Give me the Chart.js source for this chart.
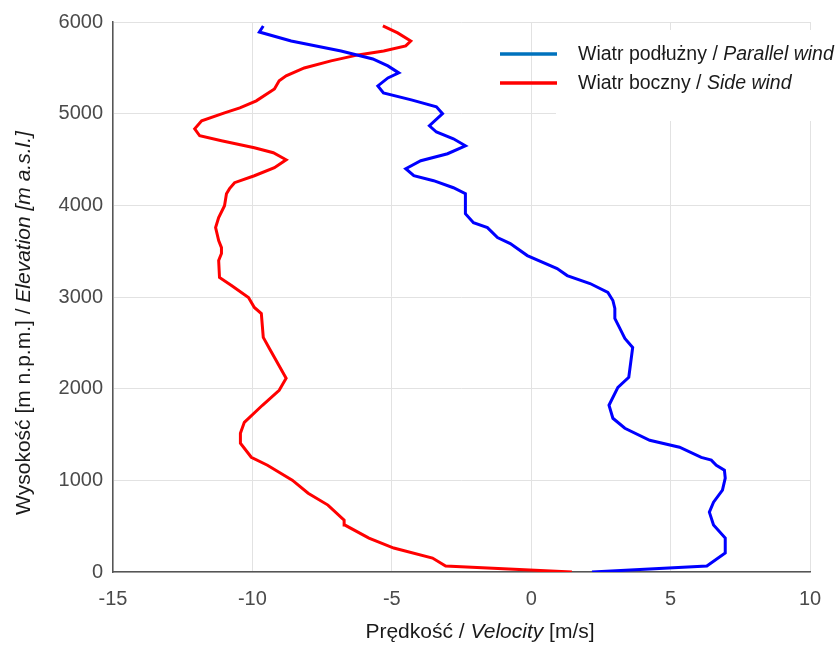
<!DOCTYPE html>
<html>
<head>
<meta charset="utf-8">
<script src="https://cdn.jsdelivr.net/npm/chart.js@4.4.1/dist/chart.umd.min.js"></script>
<style>
  body { margin: 0; background: #fff; }
</style>
</head>
<body>
<canvas id="windChart" width="840" height="648"></canvas>
<script>
// Wind profile data
const parallelHeight = [0, 65, 207, 370, 512, 653, 762, 893, 1024, 1111, 1165, 1220, 1250, 1361, 1437, 1568, 1677, 1819, 2015, 2124,
  2450, 2548, 2657, 2766, 2875, 2962, 3049, 3147, 3234, 3310, 3452, 3583, 3648, 3757, 3811, 3909, 4127, 4192, 4269, 4323,
  4399, 4487, 4563, 4650, 4726, 4800, 4868, 5000, 5075, 5150, 5227, 5303, 5390, 5445, 5521, 5597, 5684, 5793, 5891, 5957];
const parallelSpeed = [2.18, 6.3, 6.96, 6.96, 6.54, 6.39, 6.54, 6.86, 6.96, 6.93, 6.64, 6.46, 6.1, 5.32, 4.25, 3.36, 2.93, 2.79, 3.11, 3.5,
  3.64, 3.36, 3.18, 3.0, 3.0, 2.93, 2.75, 2.11, 1.29, 0.93, -0.14, -0.75, -1.21, -1.57, -2.07, -2.36, -2.36, -2.79, -3.5, -4.21,
  -4.5, -3.96, -3.0, -2.36, -2.79, -3.4, -3.65, -3.18, -3.4, -4.3, -5.3, -5.5, -5.14, -4.75, -5.14, -5.68, -6.82, -8.61, -9.75, -9.61];

const sideHeight = [0, 65, 152, 261, 370, 512, 566, 730, 860, 1002, 1165, 1252, 1405, 1514, 1633, 1819, 1982, 2113, 2439, 2559,
  2820, 2886, 2995, 3125, 3213, 3398, 3474, 3539, 3615, 3757, 3866, 3996, 4127, 4182, 4247, 4323, 4410, 4497, 4574, 4628,
  4704, 4759, 4835, 4922, 5009, 5064, 5140, 5270, 5358, 5412, 5499, 5576, 5641, 5684, 5739, 5793, 5881, 5957];
const sideSpeed = [1.46, -3.07, -3.54, -4.93, -5.82, -6.68, -6.71, -7.29, -8.0, -8.57, -9.46, -10.04, -10.43, -10.43, -10.29, -9.64, -9.04, -8.79, -9.39, -9.61,
  -9.68, -9.93, -10.14, -10.75, -11.18, -11.21, -11.11, -11.11, -11.21, -11.32, -11.21, -11.0, -10.93, -10.82, -10.64, -9.93, -9.21, -8.79, -9.25, -9.93,
  -11.11, -11.89, -12.07, -11.82, -11.0, -10.45, -9.86, -9.21, -9.04, -8.79, -8.14, -7.18, -6.21, -5.29, -4.5, -4.32, -4.79, -5.32];

const xTickValues = [-15, -10, -5, 0, 5, 10];
const yTickValues = [0, 1000, 2000, 3000, 4000, 5000, 6000];

const FONT = "'Liberation Sans', Arial, sans-serif";

function toPoints(speeds, heights) {
  return heights.map((h, i) => ({ x: speeds[i], y: h }));
}

// draw text made of normal + italic pieces, starting at x
function drawParts(ctx, parts, x, y, size) {
  let cx = x;
  parts.forEach(p => {
    ctx.font = (p.italic ? 'italic ' : '') + size + 'px ' + FONT;
    ctx.fillText(p.text, cx, y);
    cx += ctx.measureText(p.text).width;
  });
  return cx - x;
}

function partsWidth(ctx, parts, size) {
  let w = 0;
  parts.forEach(p => {
    ctx.font = (p.italic ? 'italic ' : '') + size + 'px ' + FONT;
    w += ctx.measureText(p.text).width;
  });
  return w;
}

const xTitle = [{ text: 'Prędkość / ' }, { text: 'Velocity', italic: true }, { text: ' [m/s]' }];
const yTitle = [{ text: 'Wysokość [m n.p.m.] / ' }, { text: 'Elevation [m a.s.l.]', italic: true }];
const legendItems = [
  { color: 'rgb(0,114,189)', parts: [{ text: 'Wiatr podłużny / ' }, { text: 'Parallel wind', italic: true }] },
  { color: '#ff0000', parts: [{ text: 'Wiatr boczny / ' }, { text: 'Side wind', italic: true }] }
];

const extras = {
  id: 'extras',
  afterDraw(chart) {
    const ctx = chart.ctx;
    ctx.save();
    ctx.fillStyle = '#1a1a1a';
    ctx.textBaseline = 'alphabetic';

    // x axis title
    const xs = 21;
    const xw = partsWidth(ctx, xTitle, xs);
    drawParts(ctx, xTitle, 480 - xw / 2, 638, xs);

    // y axis title (rotated)
    const yw = partsWidth(ctx, yTitle, xs);
    ctx.save();
    ctx.translate(30, 323);
    ctx.rotate(-Math.PI / 2);
    drawParts(ctx, yTitle, -yw / 2, 0, xs);
    ctx.restore();

    // legend box (white, no border)
    ctx.fillStyle = '#fff';
    ctx.fillRect(556, 30, 284, 91);
    legendItems.forEach((item, i) => {
      const ly = 54 + i * 29;
      ctx.strokeStyle = item.color;
      ctx.lineWidth = 3.5;
      ctx.beginPath();
      ctx.moveTo(500, ly);
      ctx.lineTo(557, ly);
      ctx.stroke();
      ctx.fillStyle = '#1a1a1a';
      drawParts(ctx, item.parts, 578, ly + 6, 19.5);
    });
    ctx.restore();
  }
};

const ctx = document.getElementById('windChart').getContext('2d');
const windChart = new Chart(ctx, {
  type: 'scatter',
  data: {
    datasets: [
      {
        label: 'Parallel wind',
        data: toPoints(parallelSpeed, parallelHeight),
        showLine: true,
        borderColor: '#0000ff',
        borderWidth: 3,
        pointRadius: 0,
        tension: 0
      },
      {
        label: 'Side wind',
        data: toPoints(sideSpeed, sideHeight),
        showLine: true,
        borderColor: '#ff0000',
        borderWidth: 3,
        pointRadius: 0,
        tension: 0
      }
    ]
  },
  options: {
    responsive: false,
    animation: false,
    layout: { padding: { top: 21, right: 30, left: 0, bottom: 0 } },
    plugins: {
      legend: { display: false },
      tooltip: { enabled: false }
    },
    scales: {
      x: {
        type: 'linear',
        min: -15,
        max: 10,
        afterBuildTicks: scale => { scale.ticks = xTickValues.map(v => ({ value: v })); },
        afterFit: scale => { scale.height = 76; },
        grid: { color: '#e2e2e2', lineWidth: 1, drawTicks: false },
        border: { color: '#555', width: 1.5 },
        ticks: { color: '#4a4a4a', font: { family: FONT, size: 20 }, padding: 15, callback: v => String(v) }
      },
      y: {
        type: 'linear',
        min: 0,
        max: 6000,
        afterBuildTicks: scale => { scale.ticks = yTickValues.map(v => ({ value: v })); },
        afterFit: scale => { scale.width = 113; },
        grid: { color: '#e2e2e2', lineWidth: 1, drawTicks: false },
        border: { color: '#555', width: 1.5 },
        ticks: { color: '#4a4a4a', font: { family: FONT, size: 20 }, padding: 10, callback: v => String(v) }
      }
    }
  },
  plugins: [extras]
});
</script>
</body>
</html>
